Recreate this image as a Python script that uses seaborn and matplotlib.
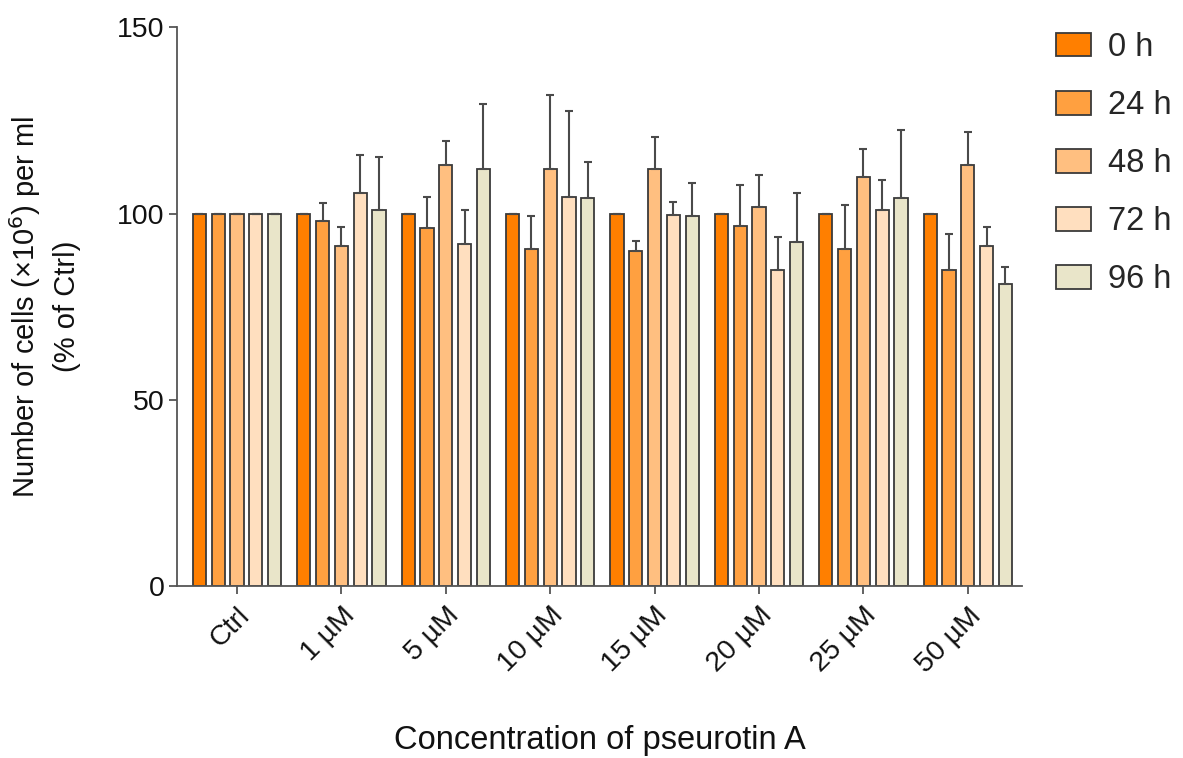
import numpy as np
import pandas as pd
import matplotlib
matplotlib.use("Agg")
import matplotlib.pyplot as plt
import seaborn as sns

concentrations = ["Ctrl", "1 µM", "5 µM", "10 µM", "15 µM", "20 µM", "25 µM", "50 µM"]
times = ["0 h", "24 h", "48 h", "72 h", "96 h"]

mean_0h = [100, 100, 100, 100, 100, 100, 100, 100]
mean_24h = [100, 97.9, 96.2, 90.5, 89.9, 96.7, 90.5, 84.7]
mean_48h = [100, 91.2, 113.1, 111.9, 111.9, 101.8, 109.7, 113.1]
mean_72h = [100, 105.6, 91.9, 104.4, 99.5, 84.9, 100.9, 91.2]
mean_96h = [100, 101.0, 111.9, 104.2, 99.2, 92.3, 104.2, 81.1]

err_0h = [0, 0, 0, 0, 0, 0, 0, 0]
err_24h = [0, 4.8, 8.1, 8.9, 2.8, 10.9, 11.8, 9.9]
err_48h = [0, 5.2, 6.4, 20.0, 8.6, 8.5, 7.5, 8.8]
err_72h = [0, 10.0, 9.1, 23.1, 3.5, 8.8, 8.1, 5.1]
err_96h = [0, 14.3, 17.6, 9.7, 9.0, 13.3, 18.2, 4.6]

colors = ["#FF7F00", "#FFA040", "#FFBF80", "#FFDFBF", "#E9E5C9"]

means = [mean_0h, mean_24h, mean_48h, mean_72h, mean_96h]
errs = [err_0h, err_24h, err_48h, err_72h, err_96h]

rows = []
for t, m in zip(times, means):
    for c, v in zip(concentrations, m):
        rows.append({"conc": c, "time": t, "value": v})
df = pd.DataFrame(rows)

sns.set_style("ticks")
plt.rcParams["font.family"] = ["Liberation Sans", "DejaVu Sans"]

fig = plt.figure(figsize=(11.83, 7.58), dpi=100)
ax = fig.add_axes([0.150, 0.227, 0.714, 0.737])

sns.barplot(data=df, x="conc", y="value", hue="time", order=concentrations,
            hue_order=times, palette=colors, width=0.9, gap=0.3,
            edgecolor="#3a3a3a", linewidth=1.3, errorbar=None, ax=ax,
            saturation=1)

for cont, e in zip(ax.containers, errs):
    xs = [p.get_x() + p.get_width() / 2 for p in cont.patches]
    ys = [p.get_height() for p in cont.patches]
    ax.errorbar(xs, ys, yerr=[np.zeros(len(e)), e], fmt="none",
                ecolor="#4a4a4a", elinewidth=1.5, capsize=3, capthick=1.5,
                zorder=1)

ax.set_ylim(0, 150)
ax.set_yticks([0, 50, 100, 150])
ax.set_xlim(-0.57, 7.52)
sns.despine(ax=ax)
for s in ["left", "bottom"]:
    ax.spines[s].set_color("#555555")
    ax.spines[s].set_linewidth(1.3)
ax.tick_params(axis="both", colors="#555555", labelcolor="#111111",
               labelsize=20.5, length=6, width=1.3)
ax.tick_params(axis="x", pad=6)
plt.setp(ax.get_xticklabels(), rotation=45, ha="right", rotation_mode="anchor")

ax.set_xlabel("Concentration of pseurotin A", fontsize=23.5, color="#111111",
              labelpad=34)
ax.set_ylabel("Number of cells (×10$^{6}$) per ml\n(% of Ctrl)", fontsize=21,
              color="#111111", labelpad=26, linespacing=1.42)

leg = ax.legend(loc="upper left", bbox_to_anchor=(1.025, 1.015), frameon=False,
                fontsize=23.5, handlelength=1.07, handleheight=0.74,
                labelspacing=0.83, handletextpad=0.52, borderaxespad=0)
for h in leg.legend_handles:
    h.set_edgecolor("#3a3a3a")
    h.set_linewidth(1.3)

fig.savefig("out.png", dpi=100)
